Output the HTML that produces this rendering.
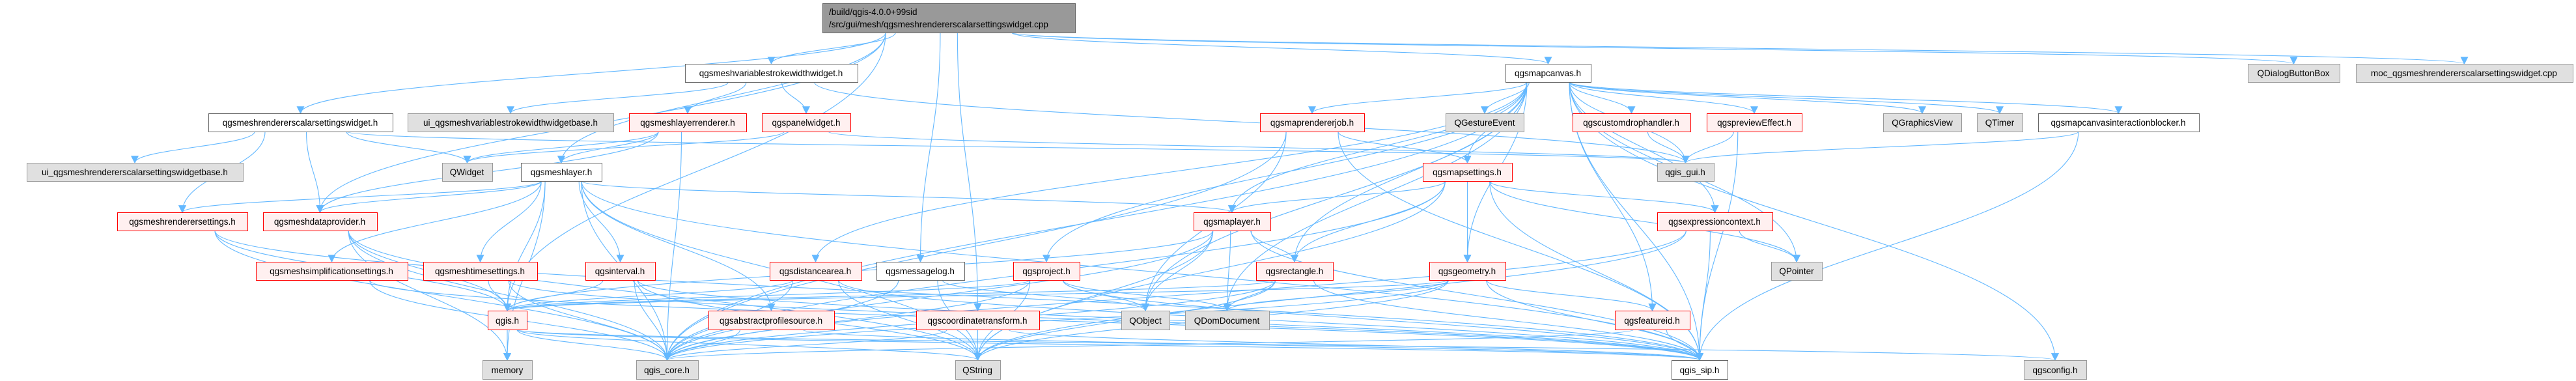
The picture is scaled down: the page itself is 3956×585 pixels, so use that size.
<!DOCTYPE html>
<html><head><meta charset="utf-8">
<style>
html,body{margin:0;padding:0;background:#fff;}
svg{display:block;}
text{font-family:"Liberation Sans","DejaVu Sans",sans-serif;font-size:13.5px;fill:#000;}
</style></head>
<body>
<svg id="g" xmlns="http://www.w3.org/2000/svg" width="3956" height="585" viewBox="0 0 3956 585">
<defs>
<marker id="ah" viewBox="0 0 10 10" refX="9" refY="5" markerWidth="12" markerHeight="12" markerUnits="userSpaceOnUse" orient="auto">
<path d="M0,0 L10,5 L0,10 z" fill="#63b8ff"/>
</marker>
</defs>
<g id="edges" fill="none" stroke="#63b8ff" stroke-width="1.1"></g>
<g id="nodes"></g>
</svg>
<script>
var N={
R:[1263,5,1651,50,'root',''],
VW:[1052,98,1317,126,'w','qgsmeshvariablestrokewidthwidget.h'],
MC:[2312,98,2443,126,'w','qgsmapcanvas.h'],
DB:[3452,98,3593,126,'g','QDialogButtonBox'],
MOC:[3618,98,3951,126,'g','moc_qgsmeshrendererscalarsettingswidget.cpp'],
SW:[320,174,603,202,'w','qgsmeshrendererscalarsettingswidget.h'],
UIV:[626,174,942,202,'g','ui_qgsmeshvariablestrokewidthwidgetbase.h'],
LR:[966,174,1146,202,'r','qgsmeshlayerrenderer.h'],
PW:[1170,174,1306,202,'r','qgspanelwidget.h'],
MRJ:[1935,174,2095,202,'r','qgsmaprendererjob.h'],
GE:[2220,174,2340,202,'g','QGestureEvent'],
CDH:[2415,174,2596,202,'r','qgscustomdrophandler.h'],
PE:[2621,174,2767,202,'r','qgspreviewEffect.h'],
GV:[2892,174,3012,202,'g','QGraphicsView'],
QT:[3036,174,3106,202,'g','QTimer'],
MCIB:[3130,174,3377,202,'w','qgsmapcanvasinteractionblocker.h'],
UIS:[41,250,373,278,'g','ui_qgsmeshrendererscalarsettingswidgetbase.h'],
QW:[679,250,756,278,'g','QWidget'],
ML:[800,250,924,278,'w','qgsmeshlayer.h'],
MS:[2185,250,2322,278,'r','qgsmapsettings.h'],
GUI:[2545,250,2632,278,'g','qgis_gui.h'],
MRS:[180,326,380,354,'r','qgsmeshrenderersettings.h'],
MDP:[404,326,579,354,'r','qgsmeshdataprovider.h'],
MLY:[1833,326,1951,354,'r','qgsmaplayer.h'],
EC:[2545,326,2722,354,'r','qgsexpressioncontext.h'],
MSS:[393,402,626,430,'r','qgsmeshsimplificationsettings.h'],
MTS:[650,402,825,430,'r','qgsmeshtimesettings.h'],
INT:[899,402,1006,430,'r','qgsinterval.h'],
DA:[1182,402,1323,430,'r','qgsdistancearea.h'],
MLOG:[1346,402,1481,430,'w','qgsmessagelog.h'],
PRJ:[1556,402,1658,430,'r','qgsproject.h'],
RECT:[1929,402,2047,430,'r','qgsrectangle.h'],
GEO:[2195,402,2312,430,'r','qgsgeometry.h'],
QP:[2720,402,2798,430,'g','QPointer'],
QGIS:[749,477,809,506,'r','qgis.h'],
APS:[1088,477,1281,506,'r','qgsabstractprofilesource.h'],
CT:[1407,477,1596,506,'r','qgscoordinatetransform.h'],
QO:[1722,477,1796,506,'g','QObject'],
QDD:[1820,477,1949,506,'g','QDomDocument'],
FID:[2480,477,2595,506,'r','qgsfeatureid.h'],
MEM:[741,553,817,582,'g','memory'],
CORE:[977,553,1072,582,'g','qgis_core.h'],
QS:[1467,553,1536,582,'g','QString'],
SIP:[2567,553,2653,582,'w','qgis_sip.h'],
CFG:[3108,553,3204,582,'g','qgsconfig.h']
};
var E={
R:'SW VW ML MLOG MC DB MOC QGIS MDP CT',
SW:'UIS MRS MDP QW GUI',
VW:'UIV LR PW GUI',
LR:'ML CORE QW MDP',
PW:'QW GUI',
ML:'MDP MRS MSS MTS INT APS MLY QGIS CORE MEM QS SIP',
MRS:'QGIS CORE SIP',
MDP:'QGIS CORE QS MEM',
MSS:'CORE SIP',
MTS:'QGIS CORE SIP',
INT:'QGIS CORE SIP QS',
DA:'QGIS CORE SIP QS',
MLOG:'QS CORE QO',
PRJ:'QGIS QO QDD CORE SIP QS',
MLY:'QGIS QO QDD RECT SIP CORE QS',
MC:'MRJ GE CDH PE GV QT MCIB MS GUI MLY RECT GEO EC FID QP DA PRJ CFG SIP CORE QO QDD',
MRJ:'MS QO CORE SIP',
MS:'MLY RECT GEO EC SIP CORE QS QP',
RECT:'QDD CORE QS SIP QGIS',
GEO:'QDD QGIS CORE FID SIP QS',
EC:'QP SIP CORE QS',
FID:'SIP CORE',
CDH:'GUI',PE:'GUI SIP',MCIB:'GUI SIP',
QGIS:'MEM CORE QS SIP CFG',
APS:'CORE SIP',
CT:'QS CORE SIP'
};
var NS='http://www.w3.org/2000/svg';
var eg=document.getElementById('edges'),ng=document.getElementById('nodes');
for(var s in E){E[s].split(' ').forEach(function(t){
 var a=N[s],b=N[t];if(!a||!b)return;
 var sx=(a[0]+a[2])/2,sy=a[3],tx=(b[0]+b[2])/2,ty=b[1],d;
 if(b[1]>a[1]+5){
  sx=sx+(tx-sx)*Math.min(0.3,(a[2]-a[0])/2/Math.max(1,Math.abs(tx-sx)+1)*0.5);
  var dy=ty-sy;
  d='M'+sx+','+sy+' C'+sx+','+(sy+dy*0.45)+' '+tx+','+(ty-dy*0.45)+' '+tx+','+ty;
 } else if(Math.abs(b[1]-a[1])<5){
  var right=b[0]>a[2];sx=right?a[2]:a[0];sy=(a[1]+a[3])/2;tx=right?b[0]:b[2];ty=(b[1]+b[3])/2;
  d='M'+sx+','+sy+' L'+tx+','+ty;
 } else {
  sy=a[1];ty=b[3];var dy2=ty-sy;
  d='M'+sx+','+sy+' C'+sx+','+(sy+dy2*0.45)+' '+tx+','+(ty-dy2*0.45)+' '+tx+','+ty;
 }
 var p=document.createElementNS(NS,'path');p.setAttribute('d',d);p.setAttribute('marker-end','url(#ah)');eg.appendChild(p);
});}
</script>
<script>
(function(){
var NS='http://www.w3.org/2000/svg',ng=document.getElementById('nodes');
var st={w:['#ffffff','#666666'],g:['#e0e0e0','#999999'],r:['#fff0f0','#ff0000'],root:['#999999','#666666']};
for(var k in N){var n=N[k];var r=document.createElementNS(NS,'rect');
r.setAttribute('x',n[0]+0.5);r.setAttribute('y',n[1]+0.5);r.setAttribute('width',n[2]-n[0]);r.setAttribute('height',n[3]-n[1]);
r.setAttribute('fill',st[n[4]][0]);r.setAttribute('stroke',st[n[4]][1]);r.setAttribute('stroke-width','1');ng.appendChild(r);}
})();
</script>
<svg style="position:absolute;left:0;top:0" width="3956" height="585" xmlns="http://www.w3.org/2000/svg">
<g font-family="Liberation Sans, DejaVu Sans, sans-serif" font-size="13.5" text-anchor="middle">
<text x="1273" y="23" text-anchor="start">/build/qgis-4.0.0+99sid</text>
<text x="1273" y="42" text-anchor="start">/src/gui/mesh/qgsmeshrendererscalarsettingswidget.cpp</text>
<text x="1184" y="117">qgsmeshvariablestrokewidthwidget.h</text>
<text x="2377" y="117">qgsmapcanvas.h</text>
<text x="3522" y="117">QDialogButtonBox</text>
<text x="3784" y="117">moc_qgsmeshrendererscalarsettingswidget.cpp</text>
<text x="461" y="193">qgsmeshrendererscalarsettingswidget.h</text>
<text x="784" y="193">ui_qgsmeshvariablestrokewidthwidgetbase.h</text>
<text x="1056" y="193">qgsmeshlayerrenderer.h</text>
<text x="1238" y="193">qgspanelwidget.h</text>
<text x="2015" y="193">qgsmaprendererjob.h</text>
<text x="2280" y="193">QGestureEvent</text>
<text x="2505" y="193">qgscustomdrophandler.h</text>
<text x="2694" y="193">qgspreviewEffect.h</text>
<text x="2952" y="193">QGraphicsView</text>
<text x="3071" y="193">QTimer</text>
<text x="3253" y="193">qgsmapcanvasinteractionblocker.h</text>
<text x="207" y="269">ui_qgsmeshrendererscalarsettingswidgetbase.h</text>
<text x="717" y="269">QWidget</text>
<text x="862" y="269">qgsmeshlayer.h</text>
<text x="2253" y="269">qgsmapsettings.h</text>
<text x="2588" y="269">qgis_gui.h</text>
<text x="280" y="345">qgsmeshrenderersettings.h</text>
<text x="491" y="345">qgsmeshdataprovider.h</text>
<text x="1892" y="345">qgsmaplayer.h</text>
<text x="2633" y="345">qgsexpressioncontext.h</text>
<text x="509" y="421">qgsmeshsimplificationsettings.h</text>
<text x="737" y="421">qgsmeshtimesettings.h</text>
<text x="952" y="421">qgsinterval.h</text>
<text x="1252" y="421">qgsdistancearea.h</text>
<text x="1413" y="421">qgsmessagelog.h</text>
<text x="1607" y="421">qgsproject.h</text>
<text x="1988" y="421">qgsrectangle.h</text>
<text x="2253" y="421">qgsgeometry.h</text>
<text x="2759" y="421">QPointer</text>
<text x="779" y="497">qgis.h</text>
<text x="1184" y="497">qgsabstractprofilesource.h</text>
<text x="1501" y="497">qgscoordinatetransform.h</text>
<text x="1759" y="497">QObject</text>
<text x="1884" y="497">QDomDocument</text>
<text x="2537" y="497">qgsfeatureid.h</text>
<text x="779" y="573">memory</text>
<text x="1024" y="573">qgis_core.h</text>
<text x="1501" y="573">QString</text>
<text x="2610" y="573">qgis_sip.h</text>
<text x="3156" y="573">qgsconfig.h</text>
</g>
</svg>
</body></html>
